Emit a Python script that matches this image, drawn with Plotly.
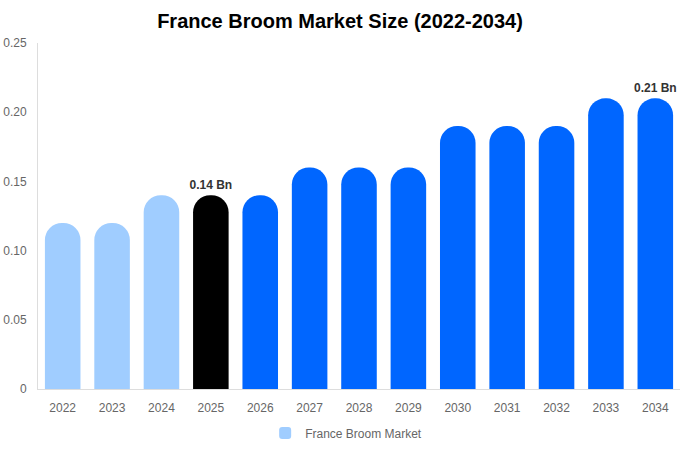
import plotly.graph_objects as go

years = ["2022", "2023", "2024", "2025", "2026", "2027", "2028", "2029",
         "2030", "2031", "2032", "2033", "2034"]
values = [0.12, 0.12, 0.14, 0.14, 0.14, 0.16, 0.16, 0.16, 0.19, 0.19, 0.19, 0.21, 0.21]
bar_colors = ["#a0cdff", "#a0cdff", "#a0cdff", "#000000"] + ["#0066ff"] * 9
labels = ["", "", "", "0.14 Bn", "", "", "", "", "", "", "", "", "0.21 Bn"]
y_ticks = [0, 0.05, 0.10, 0.15, 0.20, 0.25]
y_tick_text = ["0", "0.05", "0.10", "0.15", "0.20", "0.25"]

fig = go.Figure()
fig.add_trace(go.Bar(
    x=years, y=values, name="France Broom Market",
    marker=dict(color=bar_colors, cornerradius="50%", line=dict(width=0)),
    width=0.72,
    text=labels, textposition="outside", cliponaxis=False, constraintext="none",
    textfont=dict(family="Liberation Sans, Arial, sans-serif", size=12, color="#333333", weight="bold"),
    showlegend=True,
))

fig.update_layout(
    width=680, height=450,
    margin=dict(l=38, r=0, t=43, b=61, autoexpand=False),
    paper_bgcolor="white", plot_bgcolor="white",
    font=dict(family="Liberation Sans, Arial, sans-serif", size=12, color="#666666"),
    title=dict(text="<b>France Broom Market Size (2022-2034)</b>", x=0.5, xanchor="center",
               y=1 - 21 / 450, yanchor="middle", automargin=False,
               font=dict(size=20, color="#000000")),
    showlegend=True,
    legend=dict(orientation="h", x=0.48, xanchor="center", y=-0.127, yanchor="middle",
                font=dict(size=12, color="#666666"), itemwidth=30),
    bargap=0.28,
)
fig.update_xaxes(showgrid=False, showline=True, linecolor="#dddddd", linewidth=1, automargin=False,
                 ticks="", ticklabelstandoff=8, tickfont=dict(size=12, color="#666666"))
fig.update_yaxes(range=[0, 0.25], showgrid=False, showline=True, linecolor="#dddddd", linewidth=1,
                 automargin=False,
                 tickvals=y_ticks, ticktext=y_tick_text, ticks="", ticklabelstandoff=8,
                 zeroline=False, tickfont=dict(size=12, color="#666666"))

fig.write_html("out.html", config={"displayModeBar": False},
               post_script="document.body.style.margin='0';")
